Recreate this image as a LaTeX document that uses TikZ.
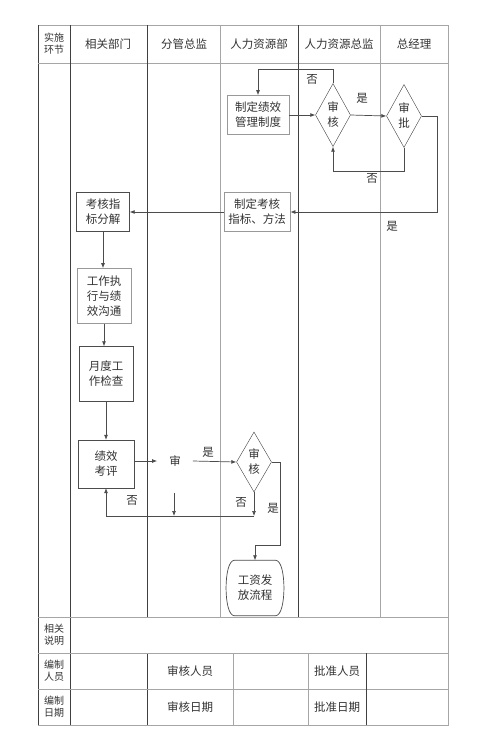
\documentclass[tikz,border=0pt]{standalone}
\usepackage{fontspec}
\setmainfont{Noto Sans CJK SC}
\usetikzlibrary{shapes.geometric,arrows.meta}

\begin{document}
\begin{tikzpicture}[x=1pt, y=-1pt,
    every node/.style = {font=\fontsize{11.5}{15}\selectfont, text=black!80, align=center},
    box/.style = {shape=rectangle, draw=black!70, inner sep=1pt},
    graybox/.style = {box, draw=black!40, line width=0.8pt},
    decision/.style = {shape=diamond, draw=black!75, aspect=0.55, inner sep=0pt,
      minimum width=35pt, minimum height=63pt},
    flow/.style = {draw=black!70, line width=0.7pt, -{Latex[length=5pt,width=4pt]}},
    line/.style = {draw=black!70, line width=0.7pt},
    lane/.style = {draw=black!75, line width=0.8pt},
    lanelight/.style = {draw=black!35, line width=0.6pt},
    small/.style = {font=\fontsize{10}{12}\selectfont}]
    \useasboundingbox (0,0) rectangle (500,748);
    \fill[white] (0,0) rectangle (500,748);

    % table frame
    \draw[lanelight] (38,25) -- (448,25) -- (448,725) -- (38,725);
    \draw[lane] (38,25) -- (38,725);
    \draw[lanelight] (38,63) -- (448,63);
    \draw[lane] (70,25) -- (70,725);
    \draw[lane] (147,25) -- (147,617);
    \draw[lane] (147,653) -- (147,725);
    \draw[lanelight] (220,25) -- (220,617);
    \draw[lane] (298,25) -- (298,617);
    \draw[lanelight] (380,25) -- (380,617);
    \foreach \y in {617,653,689}
        \draw[lanelight] (38,\y) -- (448,\y);
    \draw[lanelight] (233,653) -- (233,725);
    \draw[lanelight] (308,653) -- (308,725);
    \draw[lane] (366,653) -- (366,725);

    % header
    \node[small] (hStep) at (54,44) {实施\\环节};
    \node (hDept) at (108,44) {相关部门};
    \node (hDir) at (184,44) {分管总监};
    \node (hHR) at (259,44) {人力资源部};
    \node (hHRD) at (339,44) {人力资源总监};
    \node (hGM) at (414,44) {总经理};

    % footer
    \node[small] (fNote) at (54,635) {相关\\说明};
    \node[small] (fMaker) at (54,671) {编制\\人员};
    \node[small] (fDate) at (54,707) {编制\\日期};
    \node (fChk) at (190,671) {审核人员};
    \node (fAppr) at (337,671) {批准人员};
    \node (fChkDate) at (190,707) {审核日期};
    \node (fApprDate) at (337,707) {批准日期};

    % flow nodes
    \node[graybox, minimum width=62pt, minimum height=39pt] (plan) at (258,115) {制定绩效\\管理制度};
    \node[decision] (chkA) at (333,115) {审\\核};
    \node[decision] (appr) at (404,116) {审\\批};
    \node[graybox, minimum width=66pt, minimum height=39pt] (index) at (257,212) {制定考核\\指标、方法};
    \node[box, minimum width=53pt, minimum height=39pt] (split) at (103,212) {考核指\\标分解};
    \node[graybox, minimum width=54pt, minimum height=55pt] (exec) at (104,296) {工作执\\行与绩\\效沟通};
    \node[box, minimum width=54pt, minimum height=55pt] (month) at (106,374) {月度工\\作检查};
    \node[box, minimum width=56pt, minimum height=48pt] (eval) at (106,464) {绩效\\考评};
    \node[inner xsep=12pt] (shen) at (175,461) {审};
    \node[decision, minimum height=60pt] (chkB) at (254,462) {审\\核};
    \node[minimum width=55pt, minimum height=55pt] (pay) at (255,588) {工资发\\放流程};
    \draw[line] ([xshift=7pt]pay.north west) -- ([xshift=-7pt]pay.north east)
        .. controls ([xshift=4pt]pay.north east) and ([xshift=4pt]pay.south east) .. ([xshift=-7pt]pay.south east)
        -- ([xshift=7pt]pay.south west)
        .. controls ([xshift=-4pt]pay.south west) and ([xshift=-4pt]pay.north west) .. cycle;

    \coordinate (back) at (254,516);
    \coordinate (drop) at (174,493);

    % connectors
    \draw[flow] (chkA.north) -- ++(0,-14) -| (plan.north);
    \draw[flow] (plan.east) -- (chkA.west);
    \draw[flow] (chkA.east) -- (appr.west);
    \draw[flow] (appr.south) -- ++(0,24) -| (chkA.south);
    \draw[flow] (appr.east) -- ++(16,0) |- (index.east);
    \draw[flow] (index.west) -- (split.east);
    \draw[flow] (split.south) -- (split.south |- exec.north);
    \draw[flow] (exec.south) -- (exec.south |- month.north);
    \draw[flow] (month.south) -- (month.south |- eval.north);
    \draw[flow] (eval.east |- shen.west) -- (shen.west);
    \draw[flow] (shen.east) -- (chkB.west);
    \draw[flow] (chkB.south) -- (back);
    \draw[flow] (back) -| (eval.south);
    \draw[flow] (drop) -- (drop |- back);
    \draw[flow] (chkB.east) -| (280,545) -| (pay.north);

    % labels
    \node at (312,79) {否};
    \node at (362,98) {是};
    \node at (372,178) {否};
    \node at (392,226) {是};
    \node at (208,452) {是};
    \node at (241,502) {否};
    \node at (132,500) {否};
    \node at (273,508) {是};
\end{tikzpicture}
\end{document}
